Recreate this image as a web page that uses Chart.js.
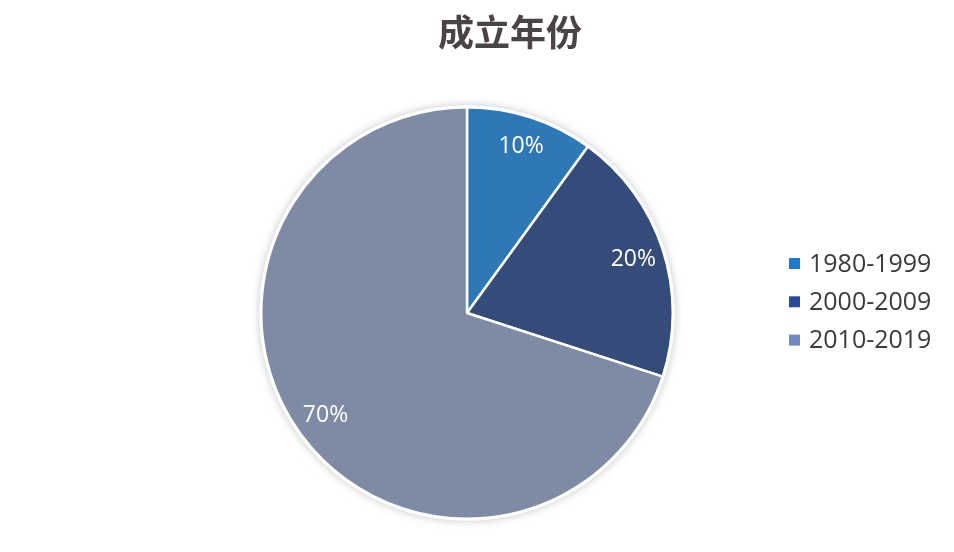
<!DOCTYPE html>
<html>
<head>
<meta charset="utf-8">
<script src="https://cdn.jsdelivr.net/npm/chart.js@4"></script>
<style>
html,body{margin:0;padding:0;background:#ffffff;}
#wrap{width:954px;height:552px;position:relative;}
</style>
</head>
<body>
<div id="wrap"><canvas id="c" width="954" height="552"></canvas></div>
<script>
const titleText = '成立年份';
const categories = ['1980-1999', '2000-2009', '2010-2019'];
const values = [10, 20, 70];
const sliceColors = ['#2e78b6', '#354b7a', '#7f8ba4'];
const legendColors = ['#2178cf', '#2a4a98', '#7189bf'];

const shadowPlugin = {
  id: 'pieShadow',
  beforeDatasetsDraw(chart) {
    const arc = chart.getDatasetMeta(0).data[0];
    if (!arc) return;
    const ctx = chart.ctx;
    ctx.save();
    ctx.shadowColor = 'rgba(90,95,110,0.35)';
    ctx.shadowBlur = 9;
    ctx.beginPath();
    ctx.arc(arc.x, arc.y, arc.outerRadius + 2, 0, Math.PI * 2);
    ctx.fillStyle = '#ffffff';
    ctx.fill();
    ctx.restore();
  }
};

const labelPlugin = {
  id: 'pctLabels',
  afterDatasetsDraw(chart) {
    const ctx = chart.ctx;
    const data = chart.data.datasets[0].data;
    const total = data.reduce((a, b) => a + b, 0);
    ctx.save();
    ctx.font = '400 23px "Open Sans", "Noto Sans", sans-serif';
    ctx.fillStyle = '#ffffff';
    ctx.textAlign = 'center';
    ctx.textBaseline = 'middle';
    chart.getDatasetMeta(0).data.forEach((arc, i) => {
      const mid = (arc.startAngle + arc.endAngle) / 2;
      const r = arc.outerRadius * 0.85;
      const x = arc.x + Math.cos(mid) * r;
      const y = arc.y + Math.sin(mid) * r;
      ctx.fillText(Math.round(data[i] / total * 100) + '%', x, y);
    });
    ctx.restore();
  }
};

const titleLegendPlugin = {
  id: 'titleAndLegend',
  afterDraw(chart) {
    const ctx = chart.ctx;
    ctx.save();
    ctx.font = 'bold 36px "Noto Sans CJK SC", sans-serif';
    ctx.fillStyle = '#4a4347';
    ctx.textAlign = 'center';
    ctx.textBaseline = 'middle';
    ctx.fillText(titleText, 510, 32);

    ctx.font = '25px "Open Sans", "Noto Sans", sans-serif';
    ctx.textBaseline = 'middle';
    ctx.textAlign = 'left';
    const x0 = 789, y0 = 263.5, step = 38.3, box = 11;
    chart.data.labels.forEach((lab, i) => {
      const y = y0 + i * step;
      ctx.fillStyle = legendColors[i];
      ctx.fillRect(x0, y - box / 2, box, box);
      ctx.fillStyle = '#3b3b3b';
      ctx.fillText(lab, x0 + 20, y + 1);
    });
    ctx.restore();
  }
};

new Chart(document.getElementById('c'), {
  type: 'pie',
  data: {
    labels: categories,
    datasets: [{
      data: values,
      backgroundColor: sliceColors,
      borderColor: '#ffffff',
      borderWidth: 2.5
    }]
  },
  options: {
    responsive: false,
    animation: false,
    devicePixelRatio: 1,
    layout: { padding: { left: 260, right: 280, bottom: 32, top: 106 } },
    plugins: {
      legend: { display: false },
      tooltip: { enabled: false },
      title: { display: false }
    }
  },
  plugins: [shadowPlugin, labelPlugin, titleLegendPlugin]
});
</script>
</body>
</html>
